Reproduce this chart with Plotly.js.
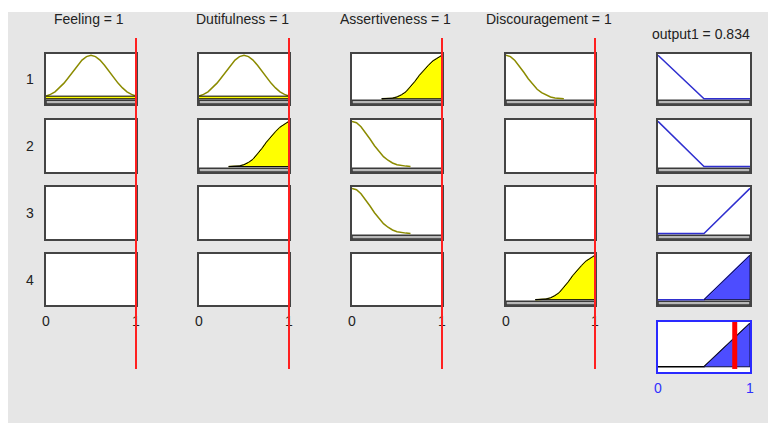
<!DOCTYPE html>
<html><head><meta charset="utf-8">
<script src="https://cdn.plot.ly/plotly-3.0.1.min.js"></script>
<style>
html,body{margin:0;padding:0;background:#ffffff;width:768px;height:423px;overflow:hidden}
#chart{position:absolute;left:8px;top:12px;width:760px;height:411px}
</style>
</head><body><div id="chart"></div>
<script>
// ---------- data ----------
const inputNames = ['Feeling', 'Dutifulness', 'Assertiveness', 'Discouragement'];
const inputValues = [1, 1, 1, 1];
const outputName = 'output1';
const outputValue = 0.834;
const ruleLabels = ['1', '2', '3', '4'];
const tickVals = [0, 1];
const tickText = ['0', '1'];

// membership function curves
const gaussX = [0, 0.05, 0.1, 0.15, 0.2, 0.25, 0.3, 0.35, 0.4, 0.45, 0.5, 0.55, 0.6, 0.65, 0.7, 0.75, 0.8, 0.85, 0.9, 0.95, 1];
const gaussY = [0.06, 0.10, 0.16, 0.25, 0.36, 0.49, 0.63, 0.77, 0.89, 0.97, 1, 0.97, 0.89, 0.77, 0.63, 0.49, 0.36, 0.25, 0.16, 0.10, 0.06];
const riseX = [0.33, 0.4, 0.45, 0.5, 0.55, 0.6, 0.65, 0.7, 0.75, 0.8, 0.85, 0.9, 0.95, 1];
const riseY = [0, 0.005, 0.015, 0.04, 0.09, 0.16, 0.27, 0.40, 0.54, 0.66, 0.77, 0.87, 0.94, 1];
const fallX = [0, 0.05, 0.1, 0.15, 0.2, 0.25, 0.3, 0.35, 0.4, 0.45, 0.5, 0.55, 0.6, 0.65];
const fallY = [1, 0.97, 0.88, 0.75, 0.61, 0.46, 0.33, 0.22, 0.14, 0.08, 0.04, 0.02, 0.01, 0];
const outDownX = [0, 0.5, 1];
const outDownY = [1, 0, 0];
const outUpX = [0, 0.5, 1];
const outUpY = [0, 0, 1];

// rules: which input mf each rule uses (null = not used) and its output mf
const ruleInputMf = [
  ['gauss', 'gauss', 'rise', 'fall'],
  [null, 'rise', 'fall', null],
  [null, null, 'fall', null],
  [null, null, null, 'rise']
];
const ruleOutputMf = ['down', 'down', 'up', 'up'];

// ---------- build ----------
const mfs = {
  gauss: {x: gaussX, y: gaussY},
  rise: {x: riseX, y: riseY},
  fall: {x: fallX, y: fallY},
  down: {x: outDownX, y: outDownY},
  up: {x: outUpX, y: outUpY}
};
function evalMf(mf, v) {
  const xs = mf.x, ys = mf.y, n = xs.length;
  if (v <= xs[0]) return ys[0];
  if (v >= xs[n - 1]) return ys[n - 1];
  for (let i = 1; i < n; i++) {
    if (v <= xs[i]) {
      const t = (v - xs[i - 1]) / (xs[i] - xs[i - 1]);
      return ys[i - 1] + t * (ys[i] - ys[i - 1]);
    }
  }
  return ys[n - 1];
}
function clippedPolygon(xs, ys, level) {
  const cy = ys.map(v => Math.min(v, level));
  let i0 = cy.findIndex(v => v > 0);
  if (i0 < 0) return null;
  let i1 = cy.length - 1;
  while (cy[i1] <= 0) i1--;
  const s = Math.max(0, i0 - 1), e = Math.min(cy.length - 1, i1 + 1);
  const px = xs.slice(s, e + 1).concat([xs[e], xs[s]]);
  const py = cy.slice(s, e + 1).concat([0, 0]);
  return {x: px, y: py};
}

const W = 760, H = 411, OX = 8, OY = 12;
const colPx = [[46, 136], [199, 289], [352, 442], [506, 595], [658, 750]];
const rowPx = [[54, 104], [120, 172], [187, 239], [254, 305], [322, 372]];
const xd = c => [(colPx[c][0] - OX) / W, (colPx[c][1] - OX) / W];
const yd = r => [1 - (rowPx[r][1] - OY) / H, 1 - (rowPx[r][0] - OY) / H];
const py = p => 1 - (p - OY) / H;
const pxp = p => (p - OX) / W;

const FONT = 'Liberation Sans, Arial, sans-serif';
const OLIVE = '#8b8b00';
const BLUE_LINE = '#2f2fcf';
const BLUE_FILL = '#4d4dff';
const YRANGE = [-0.12, 1.03];
const XRANGE = [0, 1];

const traces = [];
const shapes = [];
const annotations = [];
const layout = {
  width: W, height: H,
  margin: {l: 0, r: 0, t: 0, b: 0},
  paper_bgcolor: '#e6e6e6',
  plot_bgcolor: '#ffffff',
  showlegend: false,
  font: {family: FONT, size: 14, color: '#222222'}
};

function addAxes(id, r, c, opts) {
  const sfx = id === 1 ? '' : String(id);
  const border = opts.border || '#444444';
  layout['xaxis' + sfx] = {
    domain: xd(c), range: XRANGE, anchor: 'y' + sfx,
    showgrid: false, zeroline: false, showline: true, mirror: true,
    linecolor: border, linewidth: 2,
    showticklabels: !!opts.ticks, tickvals: tickVals, ticktext: tickText,
    ticks: opts.ticks ? 'outside' : '', ticklen: 2, tickcolor: 'rgba(0,0,0,0)',
    tickfont: {family: FONT, size: 14, color: opts.tickColor || '#222222'},
    fixedrange: true
  };
  layout['yaxis' + sfx] = {
    domain: yd(r), range: YRANGE, anchor: 'x' + sfx,
    showgrid: false, zeroline: false, showline: true, mirror: true,
    linecolor: border, linewidth: 2, showticklabels: false, fixedrange: true
  };
  // invisible placeholder so that every panel is drawn, even when empty
  traces.push({type: 'scatter', mode: 'markers', x: [0.5], y: [-5], xaxis: 'x' + sfx, yaxis: 'y' + sfx,
    marker: {opacity: 0}, hoverinfo: 'skip'});
}
function band(id, color) {
  const sfx = id === 1 ? '' : String(id);
  shapes.push({type: 'rect', xref: 'x' + sfx, yref: 'y' + sfx, x0: 0, x1: 1,
    y0: YRANGE[0], y1: -0.035, fillcolor: color, line: {color: '#3a3a3a', width: 1.5}, layer: 'below'});
}

const ruleStrength = [];
for (let r = 0; r < 4; r++) {
  let strength = 1;
  for (let c = 0; c < 4; c++) {
    const id = r * 5 + c + 1;
    const sfx = id === 1 ? '' : String(id);
    addAxes(id, r, c, {ticks: r === 3});
    const name = ruleInputMf[r][c];
    if (!name) continue;
    const mf = mfs[name];
    band(id, '#b8b8b8');
    traces.push({type: 'scatter', mode: 'lines', x: mf.x, y: mf.y, xaxis: 'x' + sfx, yaxis: 'y' + sfx,
      line: {color: OLIVE, width: 1.5}, hoverinfo: 'skip'});
    const f = evalMf(mf, inputValues[c]);
    strength = Math.min(strength, f);
    const poly = clippedPolygon(mf.x, mf.y, f);
    if (poly && f > 0.001) {
      traces.push({type: 'scatter', mode: 'lines', x: poly.x, y: poly.y, xaxis: 'x' + sfx, yaxis: 'y' + sfx,
        fill: 'toself', fillcolor: '#ffff00', line: {color: '#000000', width: 1}, hoverinfo: 'skip'});
    }
  }
  ruleStrength.push(strength < 0.001 ? 0 : strength);
  // output panel
  const id = r * 5 + 5;
  const sfx = String(id);
  addAxes(id, r, 4, {});
  band(id, '#b8b8b8');
  const omf = mfs[ruleOutputMf[r]];
  traces.push({type: 'scatter', mode: 'lines', x: omf.x, y: omf.y, xaxis: 'x' + sfx, yaxis: 'y' + sfx,
    line: {color: BLUE_LINE, width: 1.5}, hoverinfo: 'skip'});
  if (ruleStrength[r] > 0) {
    const poly = clippedPolygon(omf.x, omf.y, ruleStrength[r]);
    if (poly) traces.push({type: 'scatter', mode: 'lines', x: poly.x, y: poly.y, xaxis: 'x' + sfx, yaxis: 'y' + sfx,
      fill: 'toself', fillcolor: BLUE_FILL, line: {color: '#101040', width: 1}, hoverinfo: 'skip'});
  }
}

// aggregate panel
const aggId = 21;
addAxes(aggId, 4, 4, {ticks: true, border: '#2a2aff', tickColor: '#3030ff'});
const aggX = outUpX;
const aggY = aggX.map((_, i) => Math.max(...ruleOutputMf.map((m, r) => Math.min(mfs[m].y[i], ruleStrength[r]))));
traces.push({type: 'scatter', mode: 'lines', x: aggX, y: aggY, xaxis: 'x21', yaxis: 'y21',
  line: {color: '#000000', width: 1.5}, hoverinfo: 'skip'});
const aggPoly = clippedPolygon(aggX, aggY, 1);
if (aggPoly) traces.push({type: 'scatter', mode: 'lines', x: aggPoly.x, y: aggPoly.y, xaxis: 'x21', yaxis: 'y21',
  fill: 'toself', fillcolor: BLUE_FILL, line: {color: '#101040', width: 1}, hoverinfo: 'skip'});
shapes.push({type: 'line', xref: 'x21', yref: 'y21', x0: outputValue, x1: outputValue, y0: -0.05, y1: YRANGE[1],
  line: {color: '#ff0000', width: 5}, layer: 'above'});

// red input lines (placed through each column's x axis, in axis-domain units so they are not clipped)
for (let c = 0; c < 4; c++) {
  const id = c + 1;
  const sfx = id === 1 ? '' : String(id);
  const fx = (inputValues[c] - XRANGE[0]) / (XRANGE[1] - XRANGE[0]);
  shapes.push({type: 'line', xref: 'x' + sfx + ' domain', yref: 'paper', x0: fx, x1: fx,
    y0: py(369), y1: py(38), line: {color: '#ff2020', width: 2}, layer: 'above'});
  annotations.push({xref: 'paper', yref: 'paper', x: pxp((colPx[c][0] + colPx[c][1]) / 2 - 2), y: py(18.5),
    text: inputNames[c] + ' = ' + inputValues[c], showarrow: false, xanchor: 'center', yanchor: 'middle',
    font: {family: FONT, size: 14, color: '#222222'}});
}
annotations.push({xref: 'paper', yref: 'paper', x: pxp((colPx[4][0] + colPx[4][1]) / 2 - 3), y: py(34),
  text: outputName + ' = ' + outputValue, showarrow: false, xanchor: 'center', yanchor: 'middle',
  font: {family: FONT, size: 14, color: '#222222'}});
for (let r = 0; r < 4; r++) {
  annotations.push({xref: 'paper', yref: 'paper', x: pxp(29.5), y: py((rowPx[r][0] + rowPx[r][1]) / 2),
    text: ruleLabels[r], showarrow: false, xanchor: 'center', yanchor: 'middle',
    font: {family: FONT, size: 14, color: '#222222'}});
}

layout.shapes = shapes;
layout.annotations = annotations;
Plotly.newPlot('chart', traces, layout, {displayModeBar: false, staticPlot: true});
</script></body></html>
